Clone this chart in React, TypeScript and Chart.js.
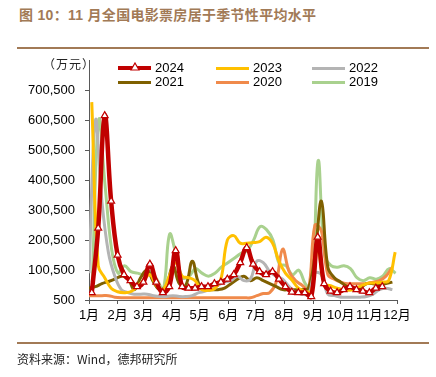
import React, { useEffect, useRef } from "react";
import { Chart, registerables } from "chart.js";

Chart.register(...registerables);

// ---- data ----
const monthLabels = ["1月", "2月", "3月", "4月", "5月", "6月", "7月", "8月", "9月", "10月", "11月", "12月"];
const monthStartDays = [0, 31, 59, 90, 120, 151, 181, 212, 243, 273, 304, 334];
const yTickValues = [500, 100500, 200500, 300500, 400500, 500500, 600500, 700500];
const yMin = 500;
const yMax = 800500;

// first weekly observation (day of year) for each series
const start2024 = 3;
const start2023 = 3;
const start2022 = 0;
const start2021 = 0;
const start2020 = 0;
const start2019 = 3.5;

const v2024 = [25000, 240000, 615000, 330000, 150000, 85000, 65000, 45000, 60000, 120000, 60000, 25000, 45000, 165000, 45000, 40000, 40000, 45000, 45000, 55000, 60000, 70000, 85000, 125000, 175000, 120000, 95000, 85000, 95000, 70000, 45000, 27000, 25000, 25000, 12000, 210000, 55000, 30000, 25000, 35000, 45000, 35000, 30000, 25000, 40000, 45000];
const v2023 = [660000, 115000, 75000, 40000, 28000, 25000, 28000, 45000, 65000, 85000, 50000, 35000, 80000, 125000, 80000, 75000, 65000, 35000, 33000, 38000, 70000, 200000, 215000, 190000, 190000, 192000, 195000, 210000, 190000, 130000, 90000, 67000, 40000, 30000, 30000, 173000, 55000, 48000, 40000, 35000, 33000, 40000, 50000, 57000, 57000, 60000, 65000, 160000];
const v2022 = [90000, 600000, 330000, 160000, 80000, 35000, 25000, 20000, 20000, 20000, 15000, 12000, 12000, 15000, 12000, 12000, 15000, 25000, 30000, 40000, 50000, 60000, 65000, 80000, 65000, 70000, 130000, 125000, 95000, 80000, 70000, 45000, 25000, 20000, 20000, 90000, 85000, 20000, 15000, 10000, 10000, 10000, 10000, 12000, 20000, 35000, 40000, 35000];
const v2021 = [40000, 45000, 55000, 62000, 70000, 80000, 75000, 35000, 75000, 100000, 60000, 35000, 50000, 115000, 55000, 50000, 130000, 55000, 35000, 35000, 35000, 40000, 55000, 70000, 80000, 65000, 75000, 65000, 55000, 45000, 35000, 35000, 35000, 35000, 40000, 150000, 330000, 110000, 75000, 60000, 45000, 35000, 40000, 55000, 55000, 50000, 55000, 60000];
const v2020 = [15000, 15000, 15000, 15000, 10000, 8000, 8000, 8000, 8000, 8000, 8000, 8000, 8000, 8000, 8000, 8000, 8000, 8000, 8000, 8000, 8000, 8000, 8000, 8000, 8000, 8000, 15000, 22000, 25000, 60000, 170000, 95000, 65000, 50000, 35000, 250000, 230000, 85000, 70000, 60000, 55000, 55000, 55000, 55000, 60000, 65000, 80000, 110000];
const v2019 = [60000, 600000, 380000, 170000, 90000, 115000, 95000, 90000, 85000, 95000, 70000, 35000, 220000, 150000, 75000, 80000, 105000, 90000, 80000, 90000, 110000, 125000, 140000, 155000, 165000, 200000, 245000, 235000, 200000, 120000, 115000, 85000, 100000, 55000, 35000, 465000, 150000, 115000, 110000, 115000, 105000, 75000, 65000, 75000, 70000, 80000, 105000, 90000];

const seriesNames = ["2024", "2023", "2022", "2021", "2020", "2019"];
const seriesColors = ["#C00000", "#FFC000", "#B4B4B4", "#7F6000", "#F08A4B", "#A9D18E"];

function toPoints(start: number, values: number[]) {
  return values.map((v, i) => ({ x: start + 7 * i, y: v }));
}

const tickFont = { family: "Arial, 'Liberation Sans', 'Noto Sans CJK SC', sans-serif", size: 13 };

export default function App() {
  const ref = useRef<HTMLCanvasElement | null>(null);

  useEffect(() => {
    if (!ref.current) return;
    const base = (i: number) => ({
      label: seriesNames[i],
      borderColor: seriesColors[i],
      backgroundColor: seriesColors[i],
      borderWidth: 3,
      pointRadius: 0,
      fill: false,
      tension: 0.4,
    });
    const chart = new Chart(ref.current, {
      type: "line",
      data: {
        datasets: [
          {
            ...base(0),
            data: toPoints(start2024, v2024),
            borderWidth: 4.5,
            pointStyle: "triangle",
            pointRadius: 4,
            pointBorderWidth: 1.2,
            pointBorderColor: seriesColors[0],
            pointBackgroundColor: "#ffffff",
          },
          { ...base(1), data: toPoints(start2023, v2023) },
          { ...base(2), data: toPoints(start2022, v2022) },
          { ...base(3), data: toPoints(start2021, v2021) },
          { ...base(4), data: toPoints(start2020, v2020) },
          { ...base(5), data: toPoints(start2019, v2019) },
        ],
      },
      options: {
        animation: false,
        responsive: false,
        maintainAspectRatio: false,
        devicePixelRatio: 1,
        layout: { padding: { left: 0, right: 39, top: 60, bottom: 0 } },
        plugins: { legend: { display: false }, tooltip: { enabled: false }, title: { display: false } },
        scales: {
          x: {
            type: "linear",
            min: 0,
            max: 334,
            afterBuildTicks: (s: any) => {
              s.ticks = monthStartDays.map((v) => ({ value: v }));
            },
            afterFit: (s: any) => {
              s.height = 77;
            },
            ticks: {
              autoSkip: false,
              maxRotation: 0,
              padding: 4,
              color: "#000",
              font: tickFont,
              callback: (_v: any, i: number) => monthLabels[i],
            },
            grid: { drawOnChartArea: false, drawTicks: true, tickLength: 4, color: "#595959" },
            border: { display: true, color: "#595959", width: 1 },
          },
          y: {
            type: "linear",
            min: yMin,
            max: yMax,
            afterBuildTicks: (s: any) => {
              s.ticks = yTickValues.map((v) => ({ value: v }));
            },
            afterFit: (s: any) => {
              s.width = 89;
            },
            ticks: {
              padding: 10,
              color: "#000",
              font: tickFont,
              callback: (v: any) => Number(v).toLocaleString("en-US"),
            },
            grid: { drawOnChartArea: false, drawTicks: true, tickLength: 4, color: "#595959" },
            border: { display: true, color: "#595959", width: 1 },
          },
        },
      },
    } as any);
    return () => chart.destroy();
  }, []);

  const legendCols = [118, 216, 312];
  const legendRows = [68, 82];
  const brown = "#A27A56";

  return (
    <div style={{ position: "absolute", left: 0, top: 0, width: 436, height: 377, background: "#fff", overflow: "hidden" }}>
      <div
        style={{
          position: "absolute",
          left: 19,
          top: 5,
          fontFamily: "Arial, 'Liberation Sans', 'Noto Sans CJK SC', sans-serif",
          fontWeight: 700,
          fontSize: 14,
          letterSpacing: "0.3px",
          color: brown,
          whiteSpace: "nowrap",
          lineHeight: "20px",
        }}
      >
        图 10：11 月全国电影票房居于季节性平均水平
      </div>
      <div style={{ position: "absolute", left: 17, top: 47, width: 412, height: 2, background: brown }} />
      <canvas ref={ref} width={436} height={377} style={{ position: "absolute", left: 0, top: 0, width: 436, height: 377 }} />
      <div
        style={{
          position: "absolute",
          left: 43,
          top: 56,
          fontFamily: "'Noto Sans CJK SC', sans-serif",
          fontSize: 12,
          letterSpacing: "1px",
          color: "#222",
          whiteSpace: "nowrap",
          lineHeight: "16px",
        }}
      >
        （万元）
      </div>
      {seriesNames.map((name, i) => {
        const col = legendCols[i % 3];
        const row = legendRows[Math.floor(i / 3)];
        const lw = i === 0 ? 4 : 3;
        return (
          <div key={name}>
            <div style={{ position: "absolute", left: col, top: row - lw / 2, width: 33, height: lw, background: seriesColors[i] }} />
            {i === 0 ? (
              <svg style={{ position: "absolute", left: col + 12, top: row - 6 }} width={10} height={9}>
                <polygon points="5,1 9,8 1,8" fill="#fff" stroke={seriesColors[0]} strokeWidth={1.2} />
              </svg>
            ) : null}
            <div
              style={{
                position: "absolute",
                left: col + 37,
                top: row - 8,
                fontFamily: "Arial, 'Liberation Sans', sans-serif",
                fontSize: 13,
                lineHeight: "16px",
                color: "#000",
              }}
            >
              {name}
            </div>
          </div>
        );
      })}
      <div style={{ position: "absolute", left: 17, top: 342, width: 412, height: 2, background: brown }} />
      <div
        style={{
          position: "absolute",
          left: 17,
          top: 351,
          fontFamily: "'Noto Sans CJK SC', Arial, sans-serif",
          fontSize: 12,
          color: "#222",
          whiteSpace: "nowrap",
          lineHeight: "16px",
        }}
      >
        资料来源：Wind，德邦研究所
      </div>
    </div>
  );
}
